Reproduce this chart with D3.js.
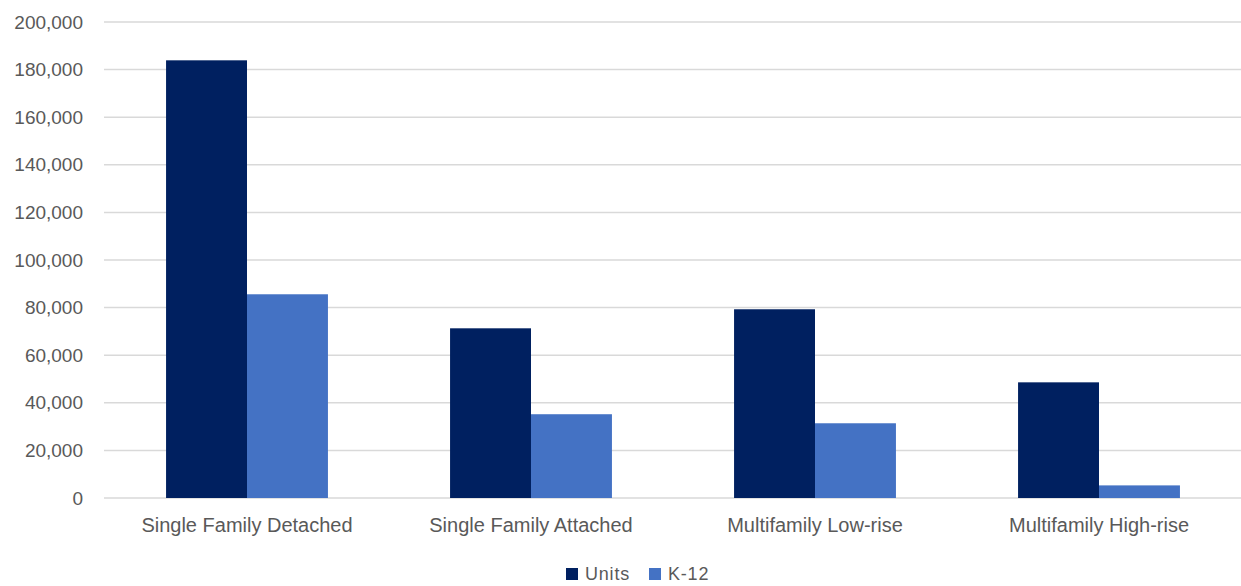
<!DOCTYPE html>
<html>
<head>
<meta charset="utf-8">
<script src="https://cdn.jsdelivr.net/npm/d3@7"></script>
<style>
    body { margin: 0; background: #fff; }
    text { font-family: "Liberation Sans", Arial, sans-serif; fill: #595959; }
</style>
</head>
<body>
<div class="chart-container"></div>
<script>
// Chart params
const width = 1241;
const height = 586;

// Data
const categories = ['Single Family Detached', 'Single Family Attached', 'Multifamily Low-rise', 'Multifamily High-rise'];
const seriesNames = ['Units', 'K-12'];
const units = [183900, 71300, 79300, 48600];
const k12 = [85600, 35200, 31400, 5300];
const yTicks = [0, 20000, 40000, 60000, 80000, 100000, 120000, 140000, 160000, 180000, 200000];
const colors = ['#002060', '#4472C4'];

// Draw chart
function drawChart() {

    const svg = d3.select('.chart-container')
        .append('svg')
        .attr('width', width)
        .attr('height', height);

    // Scales
    const x = d3.scaleBand()
        .domain(categories)
        .range([105, 1241])
        .paddingInner(0.43)
        .paddingOuter(0.215);

    const xInner = d3.scaleBand()
        .domain(seriesNames)
        .range([0, x.bandwidth()]);

    const y = d3.scaleLinear()
        .domain([0, 200000])
        .range([498, 22]);

    // Gridlines
    svg.append('g')
        .selectAll('line')
        .data(yTicks)
        .enter()
        .append('line')
        .attr('x1', 104)
        .attr('x2', width)
        .attr('y1', d => y(d))
        .attr('y2', d => y(d))
        .attr('stroke', '#d9d9d9')
        .attr('stroke-width', 1.5);

    // Y axis labels
    const yAxis = svg.append('g')
        .attr('transform', 'translate(83,0)')
        .call(d3.axisLeft(y).tickValues(yTicks).tickSize(0).tickPadding(0).tickFormat(d3.format(',')));
    yAxis.select('.domain').remove();
    yAxis.selectAll('text')
        .style('font-size', '19px')
        .attr('fill', '#595959');

    // Bars
    const rows = categories.map((c, i) => ({ cat: c, values: [units[i], k12[i]] }));

    const groups = svg.selectAll('.group')
        .data(rows)
        .enter()
        .append('g')
        .attr('class', 'group')
        .attr('transform', d => `translate(${x(d.cat)},0)`);

    groups.selectAll('rect')
        .data(d => d.values.map((v, j) => ({ series: seriesNames[j], value: v, color: colors[j] })))
        .enter()
        .append('rect')
        .attr('x', d => xInner(d.series))
        .attr('width', xInner.bandwidth())
        .attr('y', d => y(d.value))
        .attr('height', d => y(0) - y(d.value))
        .attr('fill', d => d.color);

    // X axis labels
    const xAxis = svg.append('g')
        .attr('transform', 'translate(0,518)')
        .call(d3.axisBottom(x).tickSize(0).tickPadding(0));
    xAxis.select('.domain').remove();
    xAxis.selectAll('text')
        .style('font-size', '20px')
        .attr('fill', '#595959');

    // Legend
    const legend = svg.append('g')
        .attr('transform', 'translate(566,568)');

    const item = legend.selectAll('.legend-item')
        .data(seriesNames)
        .enter()
        .append('g')
        .attr('class', 'legend-item')
        .attr('transform', (d, i) => `translate(${i * 83},0)`);

    item.append('rect')
        .attr('width', 12)
        .attr('height', 12)
        .attr('fill', (d, i) => colors[i]);

    item.append('text')
        .attr('x', 19)
        .attr('y', 12)
        .style('font-size', '18px')
        .style('letter-spacing', '0.8px')
        .text(d => d);
}

drawChart();
</script>
</body>
</html>
